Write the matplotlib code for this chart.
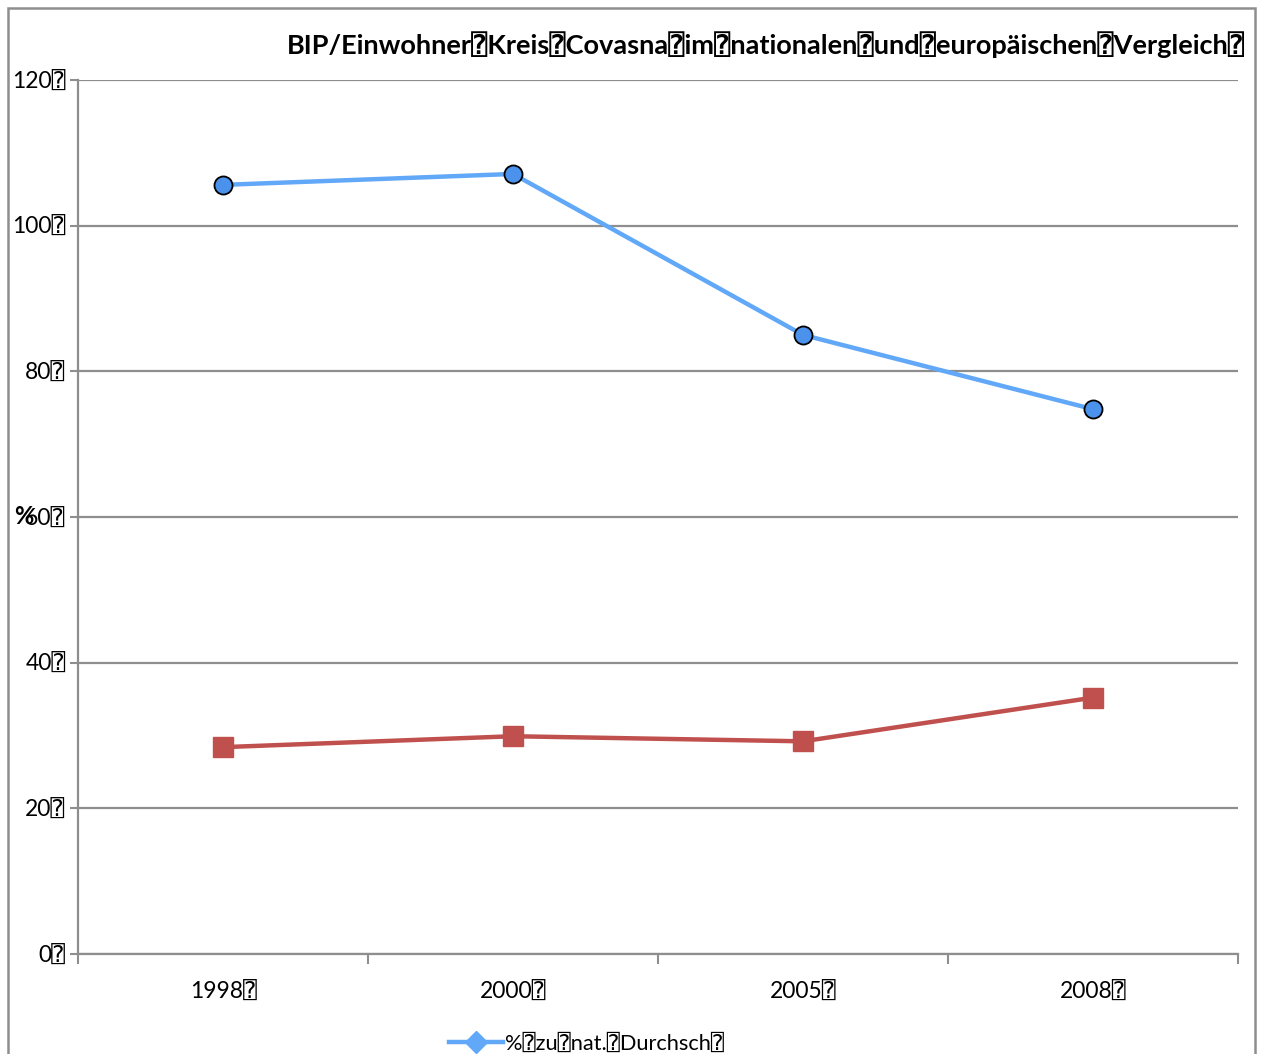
import matplotlib.pyplot as plt
from matplotlib.lines import Line2D
from matplotlib.patches import Rectangle

BOX = "\u2370"  # placeholder glyph shown in place of spaces

years = ["1998", "2000", "2005", "2008"]
pct_national = [105.6, 107.1, 85.0, 74.8]
pct_eu = [28.4, 29.9, 29.2, 35.2]
y_ticks = [0, 20, 40, 60, 80, 100, 120]

title = BOX.join(["BIP/Einwohner", "Kreis", "Covasna", "im", "nationalen",
                  "und", "europäischen", "Vergleich", ""])
label_national = "%" + BOX + "zu" + BOX + "nat." + BOX + "Durchsch" + BOX
label_eu = "%" + BOX + "zu" + BOX + "EU" + BOX + "Durchsch" + BOX

plt.rcParams["font.family"] = ["Lato", "DejaVu Sans", "DejaVu Sans Mono"]

blue = "#62A8F8"
blue_dark = "#4A92EC"
red = "#C0504D"
grey = "#8E8E8E"

W, H = 1269, 1054
fig = plt.figure(figsize=(W / 100, H / 100), dpi=100)
ax = fig.add_axes([78 / W, 1 - 954 / H, (1238 - 78) / W, (954 - 80) / H])

x = list(range(len(years)))
ax.plot(x, pct_national, color=blue, lw=3.2, marker="o", ms=13,
        mfc=blue_dark, mec="black", mew=1.3, zorder=3)
ax.plot(x, pct_eu, color=red, lw=3.2, marker="s", ms=15,
        mfc=red, mec=red, zorder=3)

ax.set_xlim(-0.5, len(years) - 0.5)
ax.set_ylim(0, 120)

ax.set_yticks(y_ticks)
ax.set_yticklabels([f"{v}{BOX}" for v in y_ticks], fontsize=16.5)
ax.tick_params(axis="y", length=6, width=1.5, color=grey, pad=3)

ax.set_xticks([i - 0.5 for i in range(len(years) + 1)])
ax.set_xticklabels([])
ax.set_xticks(x, minor=True)
ax.set_xticklabels([y + BOX for y in years], minor=True, fontsize=16.5)
ax.tick_params(axis="x", which="major", length=7, width=1.5, color=grey)
ax.tick_params(axis="x", which="minor", length=0, pad=20)

ax.grid(axis="y", color=grey, lw=1.6)
ax.set_axisbelow(True)
for side in ("top", "right"):
    ax.spines[side].set_visible(False)
for side in ("left", "bottom"):
    ax.spines[side].set_color(grey)
    ax.spines[side].set_linewidth(1.6)

ax.set_ylabel("%", rotation=0, fontsize=17, fontweight="bold", va="center")
ax.yaxis.set_label_coords(-0.047, 0.5)

fig.text(287 / W, 1 - 45 / H, title, fontsize=19.5, fontweight="bold",
         ha="left", va="center")

# chart area border
fig.patches.append(Rectangle((8 / W, -0.1), (1255 - 8) / W, 1.1 - 8 / H,
                             transform=fig.transFigure, fill=False,
                             ec=grey, lw=1.8))

handles = [
    Line2D([], [], color=blue, lw=3.2, marker="D", ms=11, mfc=blue, mec=blue),
    Line2D([], [], color=red, lw=3.2, marker="s", ms=11, mfc=red, mec=red),
]
fig.legend(handles, [label_national, label_eu], loc="upper left",
           bbox_to_anchor=(440 / W, 1 - 1025 / H), frameon=False,
           fontsize=15.7, handlelength=2.5, handletextpad=0.1,
           labelspacing=1.0, borderaxespad=0)

fig.savefig("out.png", dpi=100)
